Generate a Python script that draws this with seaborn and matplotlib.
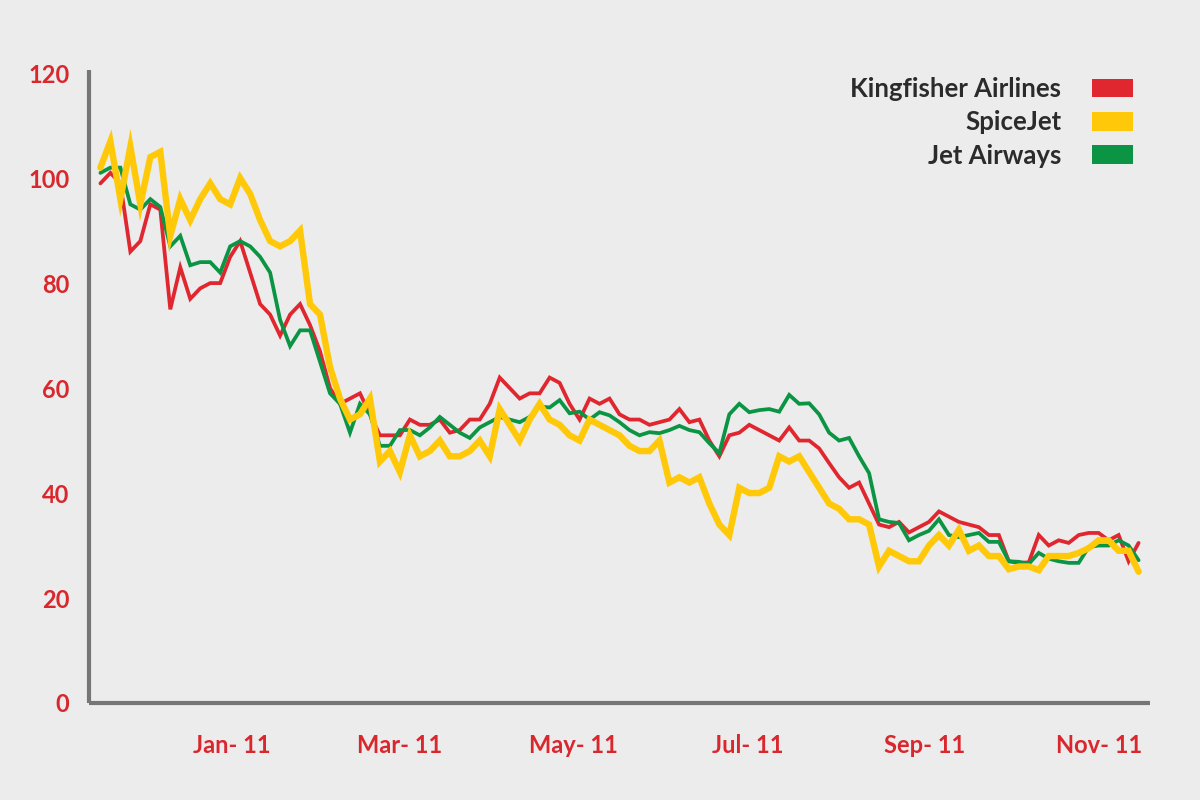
import matplotlib
matplotlib.use("Agg")
import matplotlib.pyplot as plt
import matplotlib.dates as mdates
from matplotlib.patches import Patch
import pandas as pd
import numpy as np
import seaborn as sns

# share prices indexed to 100, sampled about every 3.5 days
dates = pd.date_range("2010-11-16", periods=105, freq="84h")

kingfisher = [99, 101, 99, 86, 88, 95, 94, 75, 83, 77,
              79, 80, 80, 85, 88, 82, 76, 74, 70, 74,
              76, 72, 67, 60, 57, 58, 59, 55, 51, 51,
              51, 54, 53, 53, 54, 51.5, 52, 54, 54, 57,
              62, 60, 58, 59, 59, 62, 61, 57, 54, 58,
              57, 58, 55, 54, 54, 53, 53.5, 54, 56, 53.5,
              54, 50, 47, 51, 51.5, 53, 52, 51, 50, 52.5,
              50, 50, 48.5, 45.7, 43, 41, 42, 38, 34, 33.5,
              34.5, 32.5, 33.5, 34.5, 36.5, 35.5, 34.5, 34, 33.5, 32,
              32, 27, 26.7, 26.8, 32, 30, 31, 30.5, 32, 32.4,
              32.4, 31, 32, 27, 30.5]

spicejet = [102, 107, 96, 106, 95, 104, 105, 89, 96, 92,
            96, 99, 96, 95, 100, 97, 92, 88, 87, 88,
            90, 76, 74, 64, 58, 54, 55, 58, 46, 48,
            44, 51, 47, 48, 50, 47, 47, 48, 50, 47,
            56, 53, 50, 54, 57, 54, 53, 51, 50, 54,
            53, 52, 51, 49, 48, 48, 50, 42, 43, 42,
            43, 38, 34, 32, 41, 40, 40, 41, 47, 46,
            47, 44, 41, 38, 37, 35, 35, 34, 26, 29,
            28, 27, 27, 30, 32, 30, 33, 29, 30, 28,
            28, 25.5, 26, 26, 25.3, 28, 28, 28, 28.6, 29.5,
            31, 31, 29, 29, 25]

jet_airways = [101, 102, 102, 95, 94, 96, 94.5, 87, 89, 83.4,
               84, 84, 82, 87, 88, 87, 85, 82, 73, 68,
               71, 71, 65, 59, 57, 51.5, 57, 55, 49, 49,
               52, 52, 51, 52.5, 54.5, 53, 51.5, 50.5, 52.5, 53.5,
               54.5, 54, 53.5, 54.5, 56.5, 56.3, 57.7, 55.2, 55.5, 54,
               55.4, 54.8, 53.5, 52, 51, 51.6, 51.4, 52, 52.8, 52,
               51.6, 49.5, 47.6, 55, 57, 55.4, 55.8, 56, 55.5, 58.7,
               57, 57.1, 55, 51.5, 50, 50.5, 47, 43.8, 35, 34.5,
               34.3, 31, 32, 32.8, 35, 32, 31.6, 32, 32.4, 30.7,
               30.7, 27, 26.9, 26.5, 28.6, 27.5, 27, 26.7, 26.7, 29.7,
               30, 30, 31, 30, 27.2]

names = ["Kingfisher Airlines", "SpiceJet", "Jet Airways"]
colors = {"Kingfisher Airlines": "#E0262F", "SpiceJet": "#FFC90A", "Jet Airways": "#0B9444"}
widths = {"Kingfisher Airlines": 2.7, "SpiceJet": 4.6, "Jet Airways": 2.7}

df = pd.DataFrame({"date": dates, "Kingfisher Airlines": kingfisher,
                   "SpiceJet": spicejet, "Jet Airways": jet_airways})

bg = "#EBECEB"
red = "#D9272E"
sns.set_theme(style="white")
plt.rcParams["font.family"] = ["Lato", "DejaVu Sans"]

fig = plt.figure(figsize=(12, 8), dpi=100, facecolor=bg)
ax = fig.add_axes([89 / 1200, 97 / 800, (1150 - 89) / 1200, (703 - 70) / 800])
ax.set_facecolor(bg)

# draw order: red, green, yellow on top
for name in ["Kingfisher Airlines", "Jet Airways", "SpiceJet"]:
    sns.lineplot(x=df["date"], y=df[name], ax=ax, color=colors[name],
                 linewidth=widths[name], solid_joinstyle="miter")

ax.set_xlim(pd.Timestamp("2010-11-12"), pd.Timestamp("2011-11-19"))
ax.set_ylim(0, 120.6)
ax.set_yticks(np.arange(0, 121, 20))
ax.set_xticks([pd.Timestamp(d) for d in ["2011-01-01", "2011-03-01", "2011-05-01",
                                         "2011-07-01", "2011-09-01", "2011-11-01"]])
ax.xaxis.set_major_formatter(mdates.DateFormatter("%b- %y"))
ax.set_xlabel("")
ax.set_ylabel("")

for s in ["top", "right"]:
    ax.spines[s].set_visible(False)
for s in ["left", "bottom"]:
    ax.spines[s].set_color("#767676")
    ax.spines[s].set_linewidth(3)
    ax.spines[s].set_capstyle("butt")

ax.tick_params(axis="both", length=0, labelcolor=red, labelsize=17)
ax.tick_params(axis="y", pad=14)
ax.tick_params(axis="x", pad=22)
for lab in ax.get_xticklabels() + ax.get_yticklabels():
    lab.set_fontweight("bold")

handles = [Patch(facecolor=colors[n], edgecolor="none") for n in names]
leg = ax.legend(handles, names, loc="upper right", markerfirst=False,
                bbox_to_anchor=(1133 / 1200, 1 - 77 / 800), bbox_transform=fig.transFigure,
                frameon=False, borderpad=0, borderaxespad=0, fontsize=18.5,
                handlelength=1.6, handleheight=0.75, handletextpad=1.2, labelspacing=0.36)
for t in leg.get_texts():
    t.set_fontweight("bold")
    t.set_color("#2B2B2B")

fig.savefig("out.png", dpi=100, facecolor=bg)
